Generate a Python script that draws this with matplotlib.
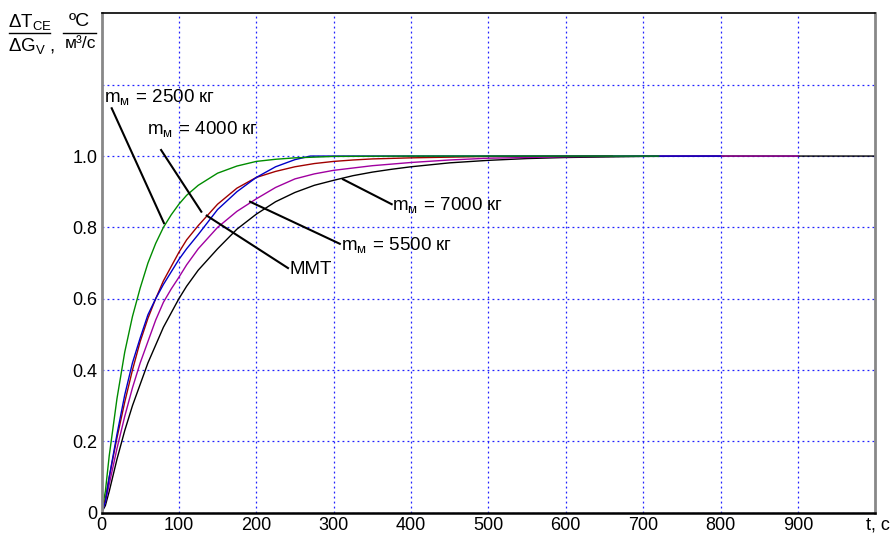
import matplotlib
matplotlib.use("Agg")
import matplotlib.pyplot as plt
from matplotlib.lines import Line2D

plt.rcParams['font.family'] = ['Liberation Sans', 'DejaVu Sans']
plt.rcParams['mathtext.fontset'] = 'custom'
plt.rcParams['mathtext.rm'] = 'Liberation Sans'
plt.rcParams['mathtext.it'] = 'Liberation Sans:italic'
plt.rcParams['mathtext.bf'] = 'Liberation Sans:bold'

# ---- data ----
t_green = [0, 5, 10, 20, 30, 40, 50, 60, 70, 80, 90, 100, 110, 125, 150, 175, 200, 225, 250, 275, 300, 400, 500, 600, 720]
y_green = [0, 0.06, 0.16, 0.32, 0.45, 0.55, 0.63, 0.70, 0.755, 0.80, 0.835, 0.865, 0.89, 0.918, 0.952, 0.972, 0.985, 0.991, 0.995, 0.997, 0.999, 1.0, 1.0, 1.0, 1.0]

t_red = [0, 5, 10, 20, 30, 40, 50, 60, 70, 80, 90, 100, 110, 125, 150, 175, 200, 225, 250, 275, 300, 325, 350, 400, 450, 500, 660]
y_red = [0, 0.04, 0.10, 0.21, 0.31, 0.40, 0.48, 0.545, 0.60, 0.65, 0.69, 0.73, 0.765, 0.805, 0.865, 0.91, 0.94, 0.957, 0.97, 0.979, 0.985, 0.989, 0.992, 0.995, 0.997, 0.999, 1.0]

t_mmt = [0, 5, 10, 20, 30, 40, 50, 60, 70, 80, 90, 100, 110, 125, 150, 175, 200, 225, 250, 270, 400, 600, 800]
y_mmt = [0, 0.03, 0.10, 0.22, 0.33, 0.42, 0.49, 0.555, 0.60, 0.64, 0.675, 0.71, 0.74, 0.78, 0.85, 0.90, 0.94, 0.97, 0.99, 1.0, 1.0, 1.0, 1.0]

t_mag = [0, 5, 10, 20, 30, 40, 50, 60, 70, 80, 90, 100, 110, 125, 150, 175, 200, 225, 250, 275, 300, 350, 400, 450, 500, 600, 700, 900]
y_mag = [0, 0.03, 0.08, 0.18, 0.27, 0.35, 0.42, 0.48, 0.54, 0.59, 0.627, 0.66, 0.695, 0.74, 0.80, 0.845, 0.88, 0.912, 0.936, 0.95, 0.96, 0.973, 0.982, 0.989, 0.994, 0.998, 1.0, 1.0]

t_blk = [0, 5, 10, 20, 30, 40, 50, 60, 70, 80, 90, 100, 110, 125, 150, 175, 200, 225, 250, 275, 300, 325, 350, 375, 400, 450, 500, 550, 600, 700, 800, 1000]
y_blk = [0, 0.02, 0.06, 0.15, 0.23, 0.30, 0.36, 0.42, 0.47, 0.52, 0.56, 0.60, 0.635, 0.68, 0.74, 0.795, 0.837, 0.872, 0.898, 0.918, 0.932, 0.945, 0.955, 0.963, 0.97, 0.981, 0.988, 0.993, 0.996, 0.999, 1.0, 1.0]

x_ticks = [0, 100, 200, 300, 400, 500, 600, 700, 800, 900]
y_ticks = [0, 0.2, 0.4, 0.6, 0.8, 1.0, 1.2]
y_tick_labels = ['0', '0.2', '0.4', '0.6', '0.8', '1.0', '']

fig = plt.figure(figsize=(8.92, 5.36), dpi=100)
ax = fig.add_axes([101.5/892, 1-512.7/536, (875.3-101.5)/892, (512.7-12.7)/536])

ax.plot(t_blk, y_blk, color='black', lw=1.0)
ax.plot(t_mag, y_mag, color='#a000a0', lw=1.0)
ax.plot(t_red, y_red, color='#a00000', lw=1.0)
ax.plot(t_mmt, y_mmt, color='#0000c8', lw=1.0)
ax.plot(t_green, y_green, color='#008c00', lw=1.0)

ax.set_xlim(0, 1000)
ax.set_ylim(0, 1.402)
ax.set_xticks(x_ticks)
ax.set_xticklabels([str(v) for v in x_ticks], fontsize=13)
ax.set_yticks(y_ticks)
ax.set_yticklabels(y_tick_labels, fontsize=13)
ax.tick_params(length=0, pad=3)
ax.grid(True, color='#2020ff', linestyle=(0, (1.5, 2.5)), lw=0.9)
ax.set_axisbelow(True)

for s in ['left', 'right']:
    ax.spines[s].set_color('#888888')
    ax.spines[s].set_linewidth(2)
ax.spines['top'].set_color('black')
ax.spines['top'].set_linewidth(1.2)
ax.spines['bottom'].set_color('black')
ax.spines['bottom'].set_linewidth(1.8)

fig.text(890/892, 1 - 517/536, 't, c', ha='right', va='top', fontsize=13)

# annotations
fs = 13.5
def label(x, y, s):
    ax.text(x, y, s, ha='left', va='center', fontsize=fs)

def mlabel(v):
    return r'$\mathrm{m_{м}}\,{=}\,\mathrm{' + v + r'\ кг}$'

label(3, 1.165, mlabel('2500'))
ax.plot([13.2, 80.7], [1.134, 0.812], color='black', lw=1.5)

label(59, 1.075, mlabel('4000'))
ax.plot([77, 129], [1.017, 0.844], color='black', lw=1.5)

label(243, 0.683, 'ММТ')
ax.plot([136, 241], [0.833, 0.686], color='black', lw=1.5)

label(309, 0.752, mlabel('5500'))
ax.plot([192, 308], [0.872, 0.754], color='black', lw=1.5)

label(376, 0.863, mlabel('7000'))
ax.plot([312, 375], [0.935, 0.865], color='black', lw=1.5)

# y-axis unit label (top-left)
W, H = 892, 536
def fx(px):
    return px / W
def fy(py):
    return 1 - py / H

fig.text(fx(30), fy(22), r'$\Delta\mathrm{T}_{\mathrm{CE}}$', ha='center', va='center', fontsize=13.5)
fig.add_artist(Line2D([fx(9), fx(50)], [fy(32.7), fy(32.7)], color='black', lw=1))
fig.text(fx(32), fy(46), r'$\Delta\mathrm{G}_{\mathrm{V}}$ ,', ha='center', va='center', fontsize=13.5)
fig.text(fx(79), fy(22), 'ºC', ha='center', va='center', fontsize=14)
fig.add_artist(Line2D([fx(63), fx(96)], [fy(32.7), fy(32.7)], color='black', lw=1))
fig.text(fx(80), fy(44), 'м³/с', ha='center', va='center', fontsize=12.5)

fig.savefig('out.png', dpi=100)
